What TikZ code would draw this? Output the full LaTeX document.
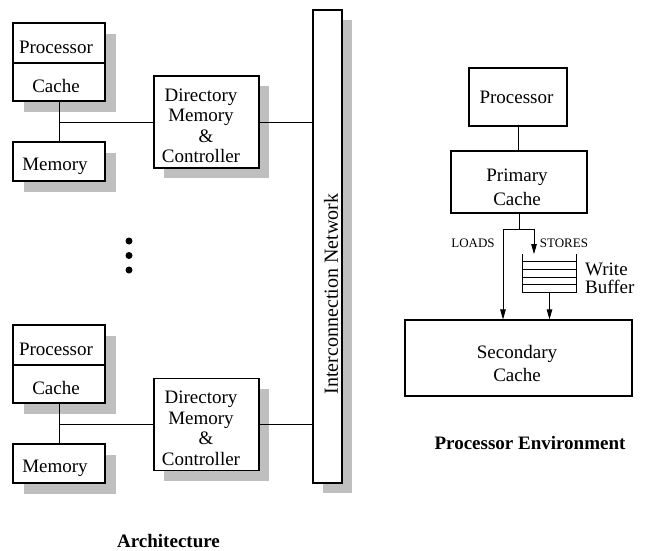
\documentclass[tikz,border=0pt]{standalone}
\usepackage{fontspec}
\setmainfont{Liberation Serif}
\usetikzlibrary{shadows,arrows.meta}
\definecolor{shadowgray}{gray}{0.75}
\begin{document}
\begin{tikzpicture}[x=1pt,y=-1pt,
  font=\fontsize{19}{20.5}\selectfont,
  box/.style={draw, line width=1.1pt, fill=white, inner sep=0pt},
  sbox/.style={box, drop shadow={shadow xshift=11pt, shadow yshift=-11pt, fill=shadowgray, opacity=1}},
  dbox/.style={box, drop shadow={shadow xshift=10pt, shadow yshift=-10pt, fill=shadowgray, opacity=1}},
  line/.style={line width=0.8pt},
  arr/.style={line width=0.8pt, -{Triangle[length=10pt,width=5.5pt]}},
  txt/.style={inner sep=0pt, align=center},
  txtone/.style={inner sep=0pt, text depth=0pt},
  small/.style={inner sep=0pt, text depth=0pt, font=\fontsize{13}{15}\selectfont},
  title/.style={inner sep=0pt, text depth=0pt, font=\fontsize{19}{20.5}\selectfont\bfseries},
  dot/.style={circle, fill=black, inner sep=0pt, minimum size=7pt}]
\useasboundingbox (0,0) rectangle (650,550);

% ---------- left: architecture ----------
\node[sbox, minimum width=92pt, minimum height=40pt] (p1) at (59,43) {};
\node[sbox, minimum width=92pt, minimum height=38pt] (c1) at (59,82) {};
\node[sbox, minimum width=92pt, minimum height=39pt] (m1) at (59,161.5) {};
\node[dbox, minimum width=105pt, minimum height=92pt] (d1) at (206.5,122) {};

\node[sbox, minimum width=92pt, minimum height=40pt] (p2) at (59,345) {};
\node[sbox, minimum width=92pt, minimum height=38pt] (c2) at (59,384) {};
\node[sbox, minimum width=92pt, minimum height=39pt] (m2) at (59,463.5) {};
\node[dbox, minimum width=105pt, minimum height=92pt] (d2) at (206.5,424.5) {};

\node[dbox, minimum width=29pt, minimum height=473pt] (net) at (327.5,246.5) {};

\coordinate (j1) at (c1.south |- d1.west);
\coordinate (j2) at (c2.south |- d2.west);
\draw[line] (c1.south) -- (m1.north);
\draw[line] (j1) -- (d1.west);
\draw[line] (d1.east) -- (d1.east -| net.west);
\draw[line] (c2.south) -- (m2.north);
\draw[line] (j2) -- (d2.west);
\draw[line] (d2.east) -- (d2.east -| net.west);

\node[txtone] (t1) at (56,47) {Processor};
\node[txtone] (t2) at (56,86) {Cache};
\node[txtone] (t3) at (55,164.5) {Memory};
\node[txt] (t4) at (201,126) {Directory\\Memory\\\hspace*{10pt}\&\\Controller};
\node[txtone] (t5) at (56,349) {Processor};
\node[txtone] (t6) at (56,388) {Cache};
\node[txtone] (t7) at (55,466.5) {Memory};
\node[txt] (t8) at (201,428.5) {Directory\\Memory\\\hspace*{10pt}\&\\Controller};
\node[txtone, rotate=90, font=\fontsize{20}{22}\selectfont] (t9) at (331,294) {Interconnection Network};

\node[dot] (dot1) at (129,241) {};
\node[dot] (dot2) at (129,255.5) {};
\node[dot] (dot3) at (129,270) {};

\node[title] (arch) at (168.5,540.5) {Architecture};

% ---------- right: processor environment ----------
\node[box, minimum width=98pt, minimum height=58pt] (rp) at (518,97) {};
\node[box, minimum width=136pt, minimum height=62pt] (pc) at (519,182) {};
\node[box, minimum width=227pt, minimum height=76pt] (sc) at (518.5,358) {};
\node[inner sep=0pt, minimum width=53pt, minimum height=38pt] (wb) at (549.5,273.3) {};

\draw[line] (wb.north west) -- (wb.south west) -- (wb.south east) -- (wb.north east);
\foreach \k in {1,...,4}
  \draw[line] ([yshift=-7.6*\k pt]wb.north west) -- ([yshift=-7.6*\k pt]wb.north east);

\coordinate (js) at (519,229);
\coordinate (jl) at (503,229);
\coordinate (jr) at (534,229);
\draw[line] (rp.south) -- (rp.south |- pc.north);
\draw[line] (pc.south) -- (js);
\draw[line] (jl) -- (jr);
\draw[arr] (jl) -- (jl |- sc.north);
\draw[arr] (jr) -- (jr |- wb.north);
\draw[arr] (wb.south) -- (wb.south |- sc.north);

\node[txtone] (r1) at (516.5,97) {Processor};
\node[txt, font=\fontsize{19}{24}\selectfont] (r2) at (517,187.5) {Primary\\Cache};
\node[txt, font=\fontsize{19}{23}\selectfont] (r3) at (517,363.5) {Secondary\\Cache};
\node[txt, align=left, anchor=west, font=\fontsize{19}{18}\selectfont] (r4) at (585,278.5) {Write\\Buffer};
\node[small] (ld) at (473,243.5) {LOADS};
\node[small] (st) at (564,243.5) {STORES};
\node[title] (penv) at (530,442.5) {Processor Environment};
\end{tikzpicture}
\end{document}
